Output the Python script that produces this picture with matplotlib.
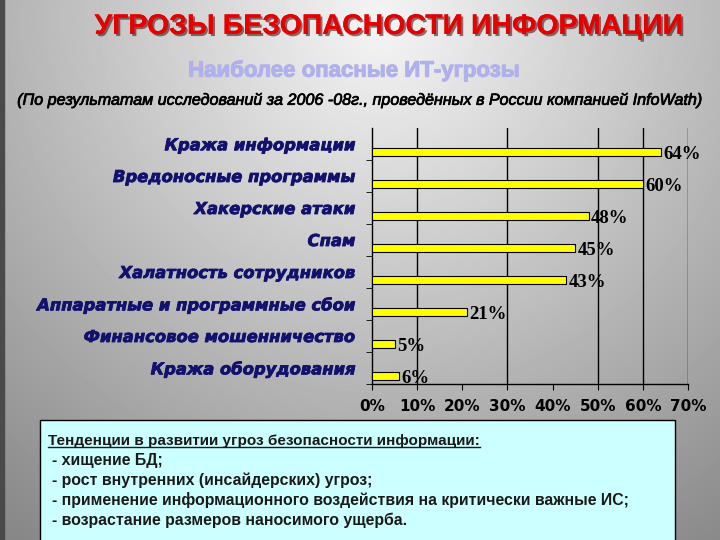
import numpy as np
import matplotlib
matplotlib.use('Agg')
import matplotlib.pyplot as plt
from matplotlib import patheffects as pe
from matplotlib.patches import Rectangle
from matplotlib.lines import Line2D

# data
categories = ['Кража информации', 'Вредоносные программы', 'Хакерские атаки', 'Спам',
              'Халатность сотрудников', 'Аппаратные и программные сбои',
              'Финансовое мошенничество', 'Кража оборудования']
values = [64, 60, 48, 45, 43, 21, 5, 6]
xticks = [0, 10, 20, 30, 40, 50, 60, 70]
grid_at = [10, 30, 50, 60, 70]

title = 'УГРОЗЫ БЕЗОПАСНОСТИ ИНФОРМАЦИИ'
subtitle = 'Наиболее опасные ИТ-угрозы'
source = '(По результатам исследований за 2006 -08г., проведённых в России компанией InfoWath)'
trends_head = 'Тенденции в развитии угроз безопасности информации:'
trends = ['- хищение БД;',
          '- рост внутренних (инсайдерских) угроз;',
          '- применение информационного воздействия на критически важные ИС;',
          '- возрастание размеров наносимого ущерба.']

W, H = 720, 540
fig = plt.figure(figsize=(7.2, 5.4), dpi=100)

# grey slide background, light near the top centre
bg = fig.add_axes([0, 0, 1, 1])
yy, xx = np.mgrid[0:H, 0:W]
r = np.hypot(xx - 380, (yy - 20) * 1.0)
grad = np.clip(0.96 - 0.00068 * r, 0, 1)
bg.imshow(grad, cmap='gray', vmin=0, vmax=1, extent=[0, 1, 0, 1], aspect='auto', zorder=0)
bg.add_patch(Rectangle((0, 0), 4 / W, 1, color='#4a4a4a', transform=bg.transAxes))
bg.set_xlim(0, 1)
bg.set_ylim(0, 1)
bg.axis('off')

# bar chart
ax = fig.add_axes([372 / W, 1 - 384 / H, 316 / W, 256 / H])
ax.patch.set_alpha(0)
y = np.arange(len(categories))
ax.barh(y + 0.25, values, height=0.22, color='#ffff00', edgecolor='black', lw=0.8, zorder=3)
for yi, v in zip(y, values):
    ax.text(v + 0.5, yi + 0.34, f'{v}%', family='Liberation Serif', weight='bold',
            fontsize=13.5, va='center', ha='left', zorder=4)

ax.set_ylim(len(categories) - 0.5, -0.5)
ax.set_xlim(0, 70)
ax.set_yticks(y, categories, fontsize=11.8, fontweight='bold', style='italic', color='#12126e')
for lab in ax.get_yticklabels():
    lab.set_path_effects([pe.withStroke(linewidth=0.6, foreground='#12126e')])
ax.set_yticks(y + 0.5, minor=True)
ax.tick_params(axis='y', which='major', length=0, pad=12)
ax.tick_params(axis='y', which='minor', length=4, color='black')
ax.set_xticks(xticks, [f'{v}%' for v in xticks], fontsize=11, fontweight='bold')
ax.tick_params(axis='x', length=4, pad=7)
for g in grid_at:
    ax.axvline(g, color='black', lw=1, zorder=1)
ax.spines['top'].set_visible(False)
ax.spines['right'].set_visible(False)
for s in ['left', 'bottom']:
    ax.spines[s].set_linewidth(1)

# headings
fig.text(389 / W, 1 - 27 / H, title, ha='center', va='center', color='#e60000',
         fontsize=20.5, weight='bold', family='Liberation Sans',
         path_effects=[pe.withSimplePatchShadow(offset=(1.5, -1.5), shadow_rgbFace='#400000', alpha=0.55),
                       pe.Normal()])
fig.text(354 / W, 1 - 71 / H, subtitle, ha='center', va='center', color='#b0b0ec',
         fontsize=16, weight='bold', family='Liberation Sans',
         path_effects=[pe.withStroke(linewidth=0.8, foreground='#b0b0ec')])
fig.text(361 / W, 1 - 100 / H, source, ha='center', va='center', color='black',
         fontsize=11.6, style='italic', family='Liberation Sans',
         path_effects=[pe.withStroke(linewidth=0.5, foreground='black')])

# trends box
fig.add_artist(Rectangle((40 / W, -0.05), 635 / W, 1 - 420 / H + 0.05, transform=fig.transFigure,
                         facecolor='#ccffff', edgecolor='black', lw=1))
head = fig.text(48 / W, 1 - 441 / H, trends_head, ha='left', va='center', color='#1a1a1a',
                fontsize=11, weight='bold', family='Liberation Sans')
for i, line in enumerate(trends):
    fig.text(52 / W, 1 - (461 + 19.7 * i) / H, line, ha='left', va='center', color='#1a1a1a',
             fontsize=11.4, weight='bold', family='Liberation Sans')

fig.canvas.draw()
bb = head.get_window_extent().transformed(fig.transFigure.inverted())
fig.add_artist(Line2D([bb.x0, bb.x1], [bb.y0 + 1 / H, bb.y0 + 1 / H], color='#1a1a1a',
                      lw=1, transform=fig.transFigure))

fig.savefig('out.png', dpi=100)
